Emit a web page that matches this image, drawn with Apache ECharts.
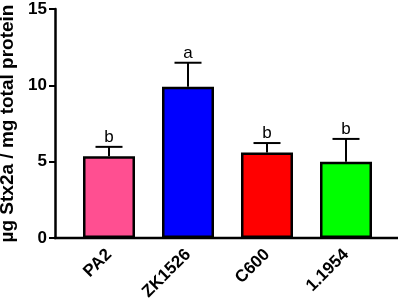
<!DOCTYPE html>
<html lang="en">
<head>
    <meta charset="UTF-8" />
    <title>Stx2a</title>
    <script src="https://cdn.jsdelivr.net/npm/echarts@6/dist/echarts.min.js"></script>
    <style>
        html, body { margin: 0; padding: 0; background: #fff; }
    </style>
</head>
<body>
    <div id="chart" style="width: 402px; height: 306px"></div>
    <script>
        // data
        var strains = ["PA2", "ZK1526", "C600", "1.1954"];
        var means = [5.35, 9.9, 5.6, 5.0];
        var errors = [0.62, 1.58, 0.62, 1.49];
        var letters = ["b", "a", "b", "b"];
        var barColors = ["#FF4F91", "#0000FF", "#FF0000", "#00FF00"];
        var yTicks = [0, 5, 10, 15];

        var mCharts = echarts.init(document.getElementById("chart"));

        var font = "Liberation Sans, Arial, sans-serif";

        var option = {
            animation: false,
            grid: {
                left: 69.5,
                right: 16.5,
                top: 9,
                bottom: 68,
                outerBoundsMode: "none",
            },
            xAxis: {
                type: "category",
                data: strains,
                axisLine: { show: false },
                axisTick: {
                    alignWithLabel: true,
                    length: 6,
                    lineStyle: { color: "#000", width: 2 },
                },
                axisLabel: {
                    rotate: 45,
                    margin: 14,
                    color: "#000",
                    fontWeight: "bold",
                    fontSize: 17,
                    fontFamily: font,
                },
            },
            yAxis: {
                type: "value",
                min: yTicks[0],
                max: yTicks[yTicks.length - 1],
                interval: 5,
                offset: 14.5,
                name: "µg Stx2a / mg total protein",
                nameLocation: "middle",
                nameGap: 31,
                nameTextStyle: {
                    color: "#000",
                    fontWeight: "bold",
                    fontSize: 19,
                    fontFamily: font,
                },
                splitLine: { show: false },
                axisLine: { show: true, lineStyle: { color: "#000", width: 2.5 } },
                axisTick: { show: true, length: 6, lineStyle: { color: "#000", width: 2 } },
                axisLabel: {
                    margin: 8,
                    color: "#000",
                    fontWeight: "bold",
                    fontSize: 17,
                    fontFamily: font,
                },
            },
            graphic: [
                {
                    type: "line",
                    shape: { x1: 54, y1: 238, x2: 398, y2: 238 },
                    style: { stroke: "#000", lineWidth: 2.5 },
                    z: 10,
                },
            ],
            series: [
                {
                    type: "bar",
                    barWidth: 52,
                    data: means.map(function (v, i) {
                        return {
                            value: v,
                            itemStyle: { color: barColors[i] },
                        };
                    }),
                    itemStyle: { borderColor: "#000", borderWidth: 2.5 },
                },
                {
                    type: "custom",
                    data: means.map(function (v, i) {
                        return [i, v, v + errors[i]];
                    }),
                    renderItem: function (params, api) {
                        var base = api.coord([api.value(0), api.value(1)]);
                        var top = api.coord([api.value(0), api.value(2)]);
                        var half = 13.5;
                        return {
                            type: "group",
                            children: [
                                {
                                    type: "line",
                                    shape: { x1: base[0], y1: base[1], x2: top[0], y2: top[1] },
                                    style: { stroke: "#000", lineWidth: 2 },
                                },
                                {
                                    type: "line",
                                    shape: { x1: top[0] - half, y1: top[1], x2: top[0] + half, y2: top[1] },
                                    style: { stroke: "#000", lineWidth: 2 },
                                },
                                {
                                    type: "text",
                                    x: top[0],
                                    y: top[1] - 1,
                                    style: {
                                        text: letters[params.dataIndex],
                                        fill: "#000",
                                        font: "17px " + font,
                                        align: "center",
                                        verticalAlign: "bottom",
                                    },
                                },
                            ],
                        };
                    },
                    z: 5,
                },
            ],
        };
        mCharts.setOption(option);
    </script>
</body>
</html>
